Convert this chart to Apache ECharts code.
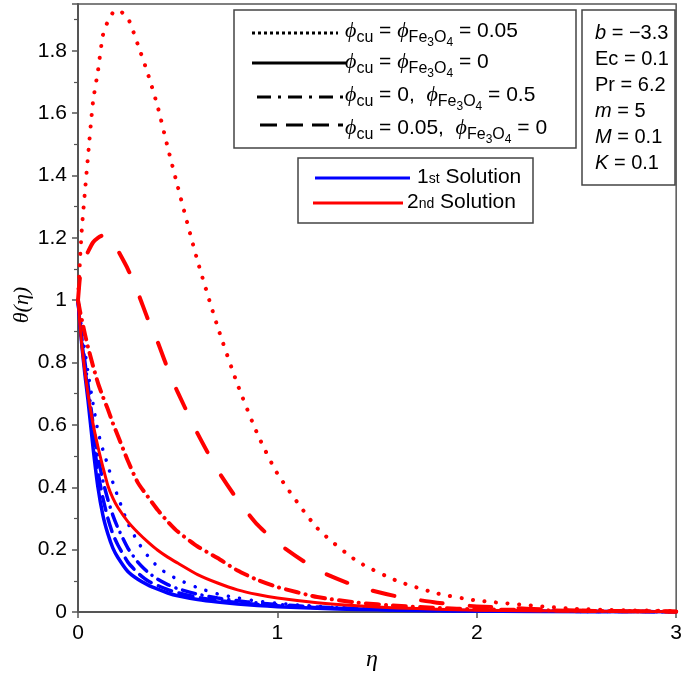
<!DOCTYPE html>
<html>
<head>
<meta charset="utf-8">
<script src="https://cdn.jsdelivr.net/npm/echarts@6/dist/echarts.min.js"></script>
<style>html,body{margin:0;padding:0;background:#fff}#c{width:685px;height:679px}</style>
</head>
<body>
<div id="c"></div>
<script>
// ---- data ----
const ETA = [0, 0.01, 0.02, 0.035, 0.05, 0.075, 0.1, 0.125, 0.15, 0.175, 0.2, 0.25, 0.3, 0.35, 0.4, 0.45, 0.5, 0.6, 0.7, 0.8, 0.9, 1.0, 1.2, 1.4, 1.6, 1.8, 2.0, 2.5, 3.0];
// 2nd solution (red)
const redDotted  = [1.0, 1.13, 1.235, 1.35, 1.46, 1.635, 1.735, 1.85, 1.895, 1.922, 1.93, 1.905, 1.82, 1.727, 1.62, 1.49, 1.365, 1.125, 0.915, 0.73, 0.571, 0.444, 0.269, 0.163, 0.10, 0.06, 0.037, 0.01, 0.003];
const redSolid   = [1.0, 0.92, 0.85, 0.77, 0.70, 0.605, 0.53, 0.465, 0.405, 0.365, 0.335, 0.29, 0.255, 0.225, 0.198, 0.176, 0.157, 0.12, 0.093, 0.071, 0.056, 0.045, 0.03, 0.02, 0.013, 0.009, 0.006, 0.003, 0.001];
const redDashDot = [1.0, 0.965, 0.935, 0.89, 0.85, 0.79, 0.735, 0.69, 0.65, 0.605, 0.565, 0.485, 0.415, 0.37, 0.327, 0.29, 0.258, 0.21, 0.173, 0.133, 0.103, 0.08, 0.048, 0.03, 0.02, 0.013, 0.009, 0.004, 0.002];
const redDashed  = [1.0, 1.074, 1.105, 1.135, 1.155, 1.185, 1.20, 1.208, 1.203, 1.188, 1.16, 1.10, 1.025, 0.94, 0.865, 0.78, 0.705, 0.572, 0.455, 0.36, 0.28, 0.222, 0.135, 0.082, 0.05, 0.03, 0.018, 0.005, 0.001];
// 1st solution (blue)
const blueDotted  = [1.0, 0.95, 0.9, 0.835, 0.77, 0.67, 0.58, 0.52, 0.47, 0.415, 0.37, 0.285, 0.225, 0.18, 0.145, 0.122, 0.105, 0.078, 0.058, 0.045, 0.035, 0.028, 0.018, 0.012, 0.008, 0.005, 0.004, 0.002, 0.001];
const blueSolid   = [1.0, 0.92, 0.85, 0.76, 0.68, 0.53, 0.40, 0.31, 0.25, 0.205, 0.175, 0.13, 0.105, 0.087, 0.073, 0.061, 0.052, 0.04, 0.032, 0.026, 0.021, 0.017, 0.012, 0.008, 0.006, 0.004, 0.003, 0.001, 0.0005];
const blueDashDot = [1.0, 0.935, 0.875, 0.80, 0.73, 0.605, 0.50, 0.42, 0.36, 0.31, 0.27, 0.205, 0.16, 0.128, 0.105, 0.088, 0.075, 0.057, 0.045, 0.036, 0.029, 0.024, 0.016, 0.011, 0.008, 0.006, 0.004, 0.002, 0.001];
const blueDashed  = [1.0, 0.93, 0.865, 0.78, 0.705, 0.565, 0.45, 0.365, 0.30, 0.25, 0.215, 0.16, 0.125, 0.10, 0.085, 0.072, 0.062, 0.047, 0.037, 0.03, 0.024, 0.02, 0.014, 0.01, 0.007, 0.005, 0.004, 0.002, 0.001];

const xTicks = [0, 1, 2, 3];
const yTickStep = 0.2;

// ---- helpers ----
const SANS = '"Liberation Sans", Arial, Helvetica, sans-serif';
const SERIF = '"Liberation Serif", "Times New Roman", serif';
const RED = '#ff0000', BLUE = '#0000ff';
const DOT = [0.1, 11.5], DASH = [22, 27], DASHDOT = [13, 7, 0.1, 7];

function pairs(ys) { return ETA.map((x, i) => [x, ys[i]]); }
function mk(name, ys, color, dash, width) {
  return {
    name: name, type: 'line', data: pairs(ys), symbol: 'none',
    smooth: 0.2,
    lineStyle: { color: color, width: width, type: dash || 'solid', cap: 'round', join: 'round' },
    itemStyle: { color: color }, z: color === RED ? 3 : 2
  };
}

const cv = document.createElement('canvas').getContext('2d');
function fontOf(p) { return (p.i ? 'italic ' : '') + p.s + 'px ' + (p.serif ? SERIF : SANS); }
function run(x, cy, parts, out) {
  let cx = x;
  parts.forEach(p => {
    const font = fontOf(p);
    cv.font = font;
    const w = cv.measureText(p.t).width;
    out.push({ type: 'text', x: cx, y: cy + (p.dy || 0), z: 102,
      style: { text: p.t, font: font, fill: '#000', align: 'left', verticalAlign: 'middle' } });
    cx += w;
  });
}
const M = 21;
const phi = () => ({ t: 'ϕ', s: 22, i: true, serif: true });
const sub = t => ({ t: t, s: 16, dy: 7 });
const ssub = t => ({ t: t, s: 12, dy: 12 });
const main = t => ({ t: t, s: M });
const fe = () => [sub('Fe'), ssub('3'), sub('O'), ssub('4')];

const g = [];
// legend box 1 (line styles)
g.push({ type: 'rect', z: 100, shape: { x: 234, y: 10, width: 342, height: 138 }, style: { fill: '#fff', stroke: '#444', lineWidth: 1.5 } });
const lg = [
  { y: 33, x1: 252, x2: 338, dash: [3, 3], parts: [phi(), sub('cu'), main(' = '), phi(), ...fe(), main(' = 0.05')], ty: 31 },
  { y: 63, x1: 252, x2: 346, dash: null, parts: [phi(), sub('cu'), main(' = '), phi(), ...fe(), main(' = 0')], ty: 62 },
  { y: 97, x1: 257, x2: 343, dash: [14, 7, 3, 7], parts: [phi(), sub('cu'), main(' = 0,  '), phi(), ...fe(), main(' = 0.5')], ty: 95 },
  { y: 125, x1: 260, x2: 343, dash: [17, 9], parts: [phi(), sub('cu'), main(' = 0.05,  '), phi(), ...fe(), main(' = 0')], ty: 128 }
];
lg.forEach(e => {
  g.push({ type: 'line', z: 101, shape: { x1: e.x1, y1: e.y, x2: e.x2, y2: e.y },
    style: { stroke: '#000', lineWidth: 3, lineDash: e.dash, lineCap: 'butt' } });
  run(345, e.ty, e.parts, g);
});
// params box
g.push({ type: 'rect', z: 100, shape: { x: 582, y: 10, width: 93, height: 175 }, style: { fill: '#fff', stroke: '#444', lineWidth: 1.5 } });
const PS = 20;
const params = [
  [{ t: 'b', s: PS, i: true }, { t: ' = −3.3', s: PS }],
  [{ t: 'Ec = 0.1', s: PS }],
  [{ t: 'Pr = 6.2', s: PS }],
  [{ t: 'm', s: PS, i: true }, { t: ' = 5', s: PS }],
  [{ t: 'M', s: PS, i: true }, { t: ' = 0.1', s: PS }],
  [{ t: 'K', s: PS, i: true }, { t: ' = 0.1', s: PS }]
];
params.forEach((p, i) => run(595, 33 + i * 26, p, g));
// solutions box
g.push({ type: 'rect', z: 100, shape: { x: 298, y: 158, width: 235, height: 65 }, style: { fill: '#fff', stroke: '#444', lineWidth: 1.5 } });
g.push({ type: 'line', z: 101, shape: { x1: 315, y1: 178, x2: 410, y2: 178 }, style: { stroke: BLUE, lineWidth: 3 } });
g.push({ type: 'line', z: 101, shape: { x1: 313, y1: 203, x2: 403, y2: 203 }, style: { stroke: RED, lineWidth: 3 } });
run(417, 177, [main('1'), { t: 'st', s: 14, dy: 2 }, main(' Solution')], g);
run(407, 202, [main('2'), { t: 'nd', s: 14, dy: 2 }, main(' Solution')], g);
// axis names
g.push({ type: 'text', x: 22, y: 305, rotation: Math.PI / 2, z: 102,
  style: { text: 'θ(η)', font: 'italic 22px ' + SERIF, fill: '#000', align: 'center', verticalAlign: 'middle' } });
g.push({ type: 'text', x: 372, y: 660, z: 102,
  style: { text: 'η', font: 'italic 24px ' + SERIF, fill: '#000', align: 'center', verticalAlign: 'middle' } });

const chart = echarts.init(document.getElementById('c'), null, { renderer: 'canvas' });
chart.setOption({
  animation: false,
  backgroundColor: '#fff',
  grid: { left: 78, right: 5, top: 4, bottom: 67, show: true, borderColor: '#555', borderWidth: 1.5, backgroundColor: 'transparent' },
  xAxis: {
    type: 'value', min: xTicks[0], max: xTicks[xTicks.length - 1], interval: 1,
    axisLine: { show: true, onZero: false, lineStyle: { color: '#555', width: 2 } },
    axisTick: { show: true, length: 6, lineStyle: { color: '#555', width: 1.5 } },
    axisLabel: { color: '#000', fontSize: 21, fontFamily: SANS, margin: 11 },
    splitLine: { show: false }
  },
  yAxis: {
    type: 'value', min: 0, max: 1.95, interval: yTickStep,
    axisLine: { show: true, onZero: false, lineStyle: { color: '#555', width: 2 } },
    axisTick: { show: true, length: 6, lineStyle: { color: '#555', width: 1.5 } },
    minorTick: { show: true, splitNumber: 2, length: 4, lineStyle: { color: '#555', width: 1.2 } },
    axisLabel: { color: '#000', fontSize: 21, fontFamily: SANS, margin: 11, showMaxLabel: false,
      formatter: v => (Math.abs(v - Math.round(v)) < 1e-9 ? String(Math.round(v)) : v.toFixed(1)) },
    splitLine: { show: false }, minorSplitLine: { show: false }
  },
  series: [
    mk('1st φcu=φFe3O4=0.05', blueDotted, BLUE, DOT, 3.5),
    mk('1st φcu=φFe3O4=0', blueSolid, BLUE, 'solid', 3.5),
    mk('1st φcu=0, φFe3O4=0.5', blueDashDot, BLUE, DASHDOT, 3.5),
    mk('1st φcu=0.05, φFe3O4=0', blueDashed, BLUE, [14, 8], 3.5),
    mk('2nd φcu=φFe3O4=0.05', redDotted, RED, DOT, 4),
    mk('2nd φcu=φFe3O4=0', redSolid, RED, 'solid', 3),
    mk('2nd φcu=0, φFe3O4=0.5', redDashDot, RED, DASHDOT, 4),
    mk('2nd φcu=0.05, φFe3O4=0', redDashed, RED, DASH, 4)
  ],
  graphic: { elements: g }
});
</script>
</body>
</html>
